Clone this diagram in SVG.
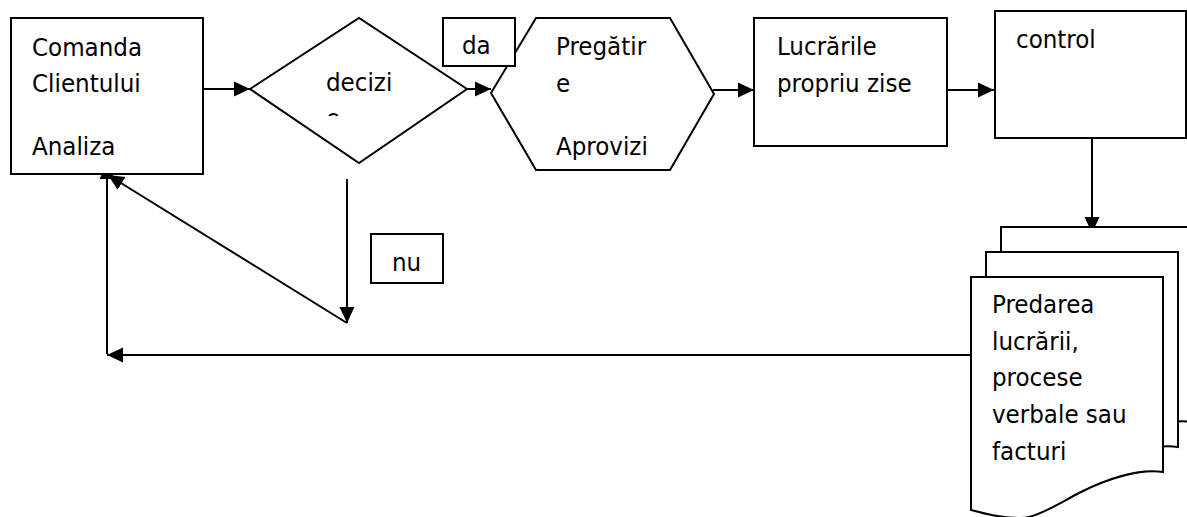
<svg xmlns="http://www.w3.org/2000/svg" width="1187" height="517" viewBox="0 0 1187 517">
<style>
.s{fill:#fff;stroke:#000;stroke-width:2}
.c{fill:none;stroke:#000;stroke-width:2}
text{font-family:"DejaVu Sans Condensed","DejaVu Sans",sans-serif;font-stretch:condensed;font-size:25.6px;fill:#000}
</style>
<defs>
<marker id="ah" markerUnits="userSpaceOnUse" markerWidth="17" markerHeight="16" refX="16" refY="8" orient="auto">
<path d="M0,0.5 L16,8 L0,15.5 z" fill="#000"/>
</marker>
<path id="doc" d="M0,0 H192 V195 C170,192 140,200 110,215 C85,228 65,241 50,241 C30,241 15,237 0,233 Z"/>
<clipPath id="dclip"><rect x="300" y="60" width="120" height="56"/></clipPath>
</defs>
<rect width="1187" height="517" fill="#fff"/>
<g id="connectors">
<path class="c" d="M203,89 H250" marker-end="url(#ah)"/>
<path class="c" d="M467,89 H491" marker-end="url(#ah)"/>
<path class="c" d="M713,90 H754" marker-end="url(#ah)"/>
<path class="c" d="M947,90 H994" marker-end="url(#ah)"/>
<path class="c" d="M1092,138 V233" marker-end="url(#ah)"/>
<path class="c" d="M347,179 V323" marker-end="url(#ah)"/>
<path class="c" d="M347,323 L108,175" marker-end="url(#ah)"/>
<path class="c" d="M971,355 H107" marker-end="url(#ah)"/>
<path class="c" d="M107,354 V163" marker-end="url(#ah)"/>
</g>
<g id="comanda">
<rect class="s" x="11" y="18" width="192" height="156"/>
<text x="32" y="56">Comanda</text>
<text x="32" y="92">Clientului</text>
<text x="32" y="155">Analiza</text>
</g>
<g id="decizie">
<polygon class="s" points="250,89 359,18 467,89 359,163"/>
<g clip-path="url(#dclip)">
<text x="326" y="91">decizi</text>
<text x="326" y="127">e</text>
</g>
</g>
<g id="pregatire">
<polygon class="s" points="491,93 536,18 670,18 714,94 670,170 536,170"/>
<text x="556" y="55">Pregătir</text>
<text x="556" y="92">e</text>
<text x="556" y="155">Aprovizi</text>
</g>
<g id="da">
<rect class="s" x="443" y="18" width="72" height="48"/>
<text x="462" y="54">da</text>
</g>
<g id="lucrarile">
<rect class="s" x="754" y="18" width="193" height="128"/>
<text x="777" y="55">Lucrările</text>
<text x="777" y="92">propriu zise</text>
</g>
<g id="control">
<rect class="s" x="995" y="11" width="191" height="127"/>
<text x="1016" y="48">control</text>
</g>
<g id="nu">
<rect class="s" x="371" y="234" width="72" height="49"/>
<text x="392" y="271">nu</text>
</g>
<g id="predarea">
<use href="#doc" class="s" x="1001" y="227"/>
<use href="#doc" class="s" x="986" y="252"/>
<use href="#doc" class="s" x="971" y="277"/>
<text x="992" y="313">Predarea</text>
<text x="992" y="350">lucrării,</text>
<text x="992" y="386">procese</text>
<text x="992" y="423">verbale sau</text>
<text x="992" y="460">facturi</text>
</g>
</svg>
